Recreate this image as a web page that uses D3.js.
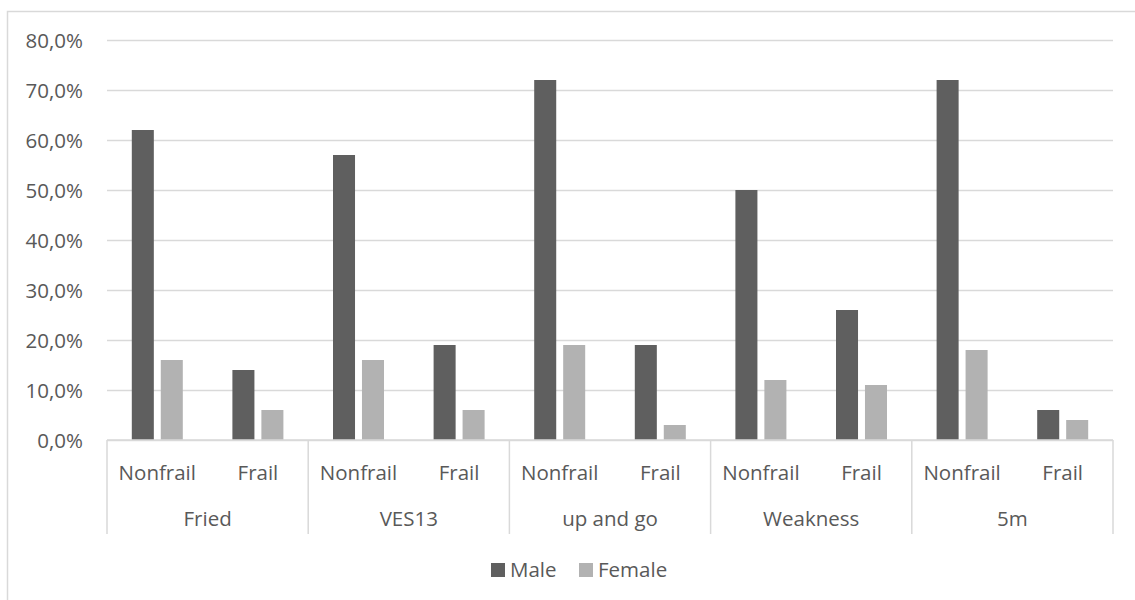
<!DOCTYPE html>
<html>
<head>
<meta charset="utf-8">
<script src="https://cdn.jsdelivr.net/npm/d3@7"></script>
<style>
  html, body { margin: 0; padding: 0; background: #fff; }
  svg { display: block; }
  text { font-family: "Open Sans", sans-serif; fill: #595959; }
</style>
</head>
<body>
<svg id="chart" width="1135" height="600"></svg>
<script>
// Test groups and frailty status within each group
const groups = ["Fried", "VES13", "up and go", "Weakness", "5m"];
const statuses = ["Nonfrail", "Frail"];
const series = ["Male", "Female"];

// Share of participants (%), listed Nonfrail, Frail for each group in order
const maleValues   = [62, 14, 57, 19, 72, 19, 50, 26, 72, 6];
const femaleValues = [16, 6, 16, 6, 19, 3, 12, 11, 18, 4];

const yTicks = [0, 10, 20, 30, 40, 50, 60, 70, 80];
const colors = { Male: "#5f5f5f", Female: "#b2b2b2" };

const rows = [];
groups.forEach((g, gi) => {
  statuses.forEach((s, si) => {
    const i = gi * statuses.length + si;
    rows.push({ group: g, status: s, Male: maleValues[i], Female: femaleValues[i] });
  });
});

const svg = d3.select("#chart");
const plotLeft = 107, plotRight = 1113, plotTop = 40, plotBase = 440;
const fontSize = 20.5;

// Outer frame (only the left and top edges fall inside the view)
svg.append("rect")
  .attr("x", 7.5).attr("y", 11.5)
  .attr("width", 1300).attr("height", 700)
  .attr("fill", "none").attr("stroke", "#d9d9d9").attr("stroke-width", 1.5);

const x0 = d3.scaleBand().domain(groups).range([plotLeft, plotRight]);
const x1 = d3.scaleBand().domain(statuses).range([0, x0.bandwidth()]);
const pairWidth = 51;
const x2 = d3.scaleBand().domain(series)
  .range([(x1.bandwidth() - pairWidth) / 2, (x1.bandwidth() + pairWidth) / 2])
  .paddingInner(0.24);
const y = d3.scaleLinear().domain([0, 80]).range([plotBase, plotTop]);

const locale = d3.formatLocale({ decimal: ",", thousands: ".", grouping: [3], currency: ["", ""] });
const fmt = locale.format(".1f");

// Horizontal gridlines
const yAxis = d3.axisLeft(y).tickValues(yTicks).tickSize(-(plotRight - plotLeft)).tickPadding(24)
  .tickFormat(d => fmt(d) + "%");
const gy = svg.append("g").attr("transform", `translate(${plotLeft},0)`).call(yAxis);
gy.select(".domain").remove();
gy.selectAll(".tick line").attr("stroke", "#d9d9d9").attr("stroke-width", 1.5);
gy.selectAll(".tick text")
  .attr("font-size", fontSize).attr("fill", "#595959")
  .attr("font-family", "'Open Sans', sans-serif")
  .attr("dy", "0.36em");

// Bars
const gGroups = svg.append("g").selectAll("g").data(rows).join("g")
  .attr("transform", d => `translate(${x0(d.group) + x1(d.status)},0)`);
gGroups.selectAll("rect").data(d => series.map(k => ({ key: k, value: d[k] }))).join("rect")
  .attr("x", d => x2(d.key))
  .attr("width", x2.bandwidth())
  .attr("y", d => y(d.value))
  .attr("height", d => plotBase - y(d.value))
  .attr("fill", d => colors[d.key]);

// Category axis: baseline, group separators, and two rows of labels
svg.append("line")
  .attr("x1", plotLeft).attr("x2", plotRight).attr("y1", plotBase).attr("y2", plotBase)
  .attr("stroke", "#d9d9d9").attr("stroke-width", 1.5);

const bounds = groups.map(g => x0(g)).concat([plotRight]);
svg.append("g").selectAll("line").data(bounds).join("line")
  .attr("x1", d => d).attr("x2", d => d)
  .attr("y1", plotBase).attr("y2", 534)
  .attr("stroke", "#d9d9d9").attr("stroke-width", 1.5);

svg.append("g").selectAll("text").data(rows).join("text")
  .attr("x", d => x0(d.group) + x1(d.status) + x1.bandwidth() / 2)
  .attr("y", 480)
  .attr("text-anchor", "middle")
  .attr("font-size", fontSize)
  .text(d => d.status);

svg.append("g").selectAll("text").data(groups).join("text")
  .attr("x", d => x0(d) + x0.bandwidth() / 2)
  .attr("y", 526)
  .attr("text-anchor", "middle")
  .attr("font-size", fontSize)
  .text(d => d);

// Legend
const legendItems = [{ key: "Male", x: 491 }, { key: "Female", x: 579 }];
const lg = svg.append("g").selectAll("g").data(legendItems).join("g")
  .attr("transform", d => `translate(${d.x},0)`);
lg.append("rect").attr("x", 0).attr("y", 563).attr("width", 14).attr("height", 14)
  .attr("fill", d => colors[d.key]);
lg.append("text").attr("x", 19).attr("y", 577).attr("font-size", fontSize)
  .text(d => d.key);
</script>
</body>
</html>
